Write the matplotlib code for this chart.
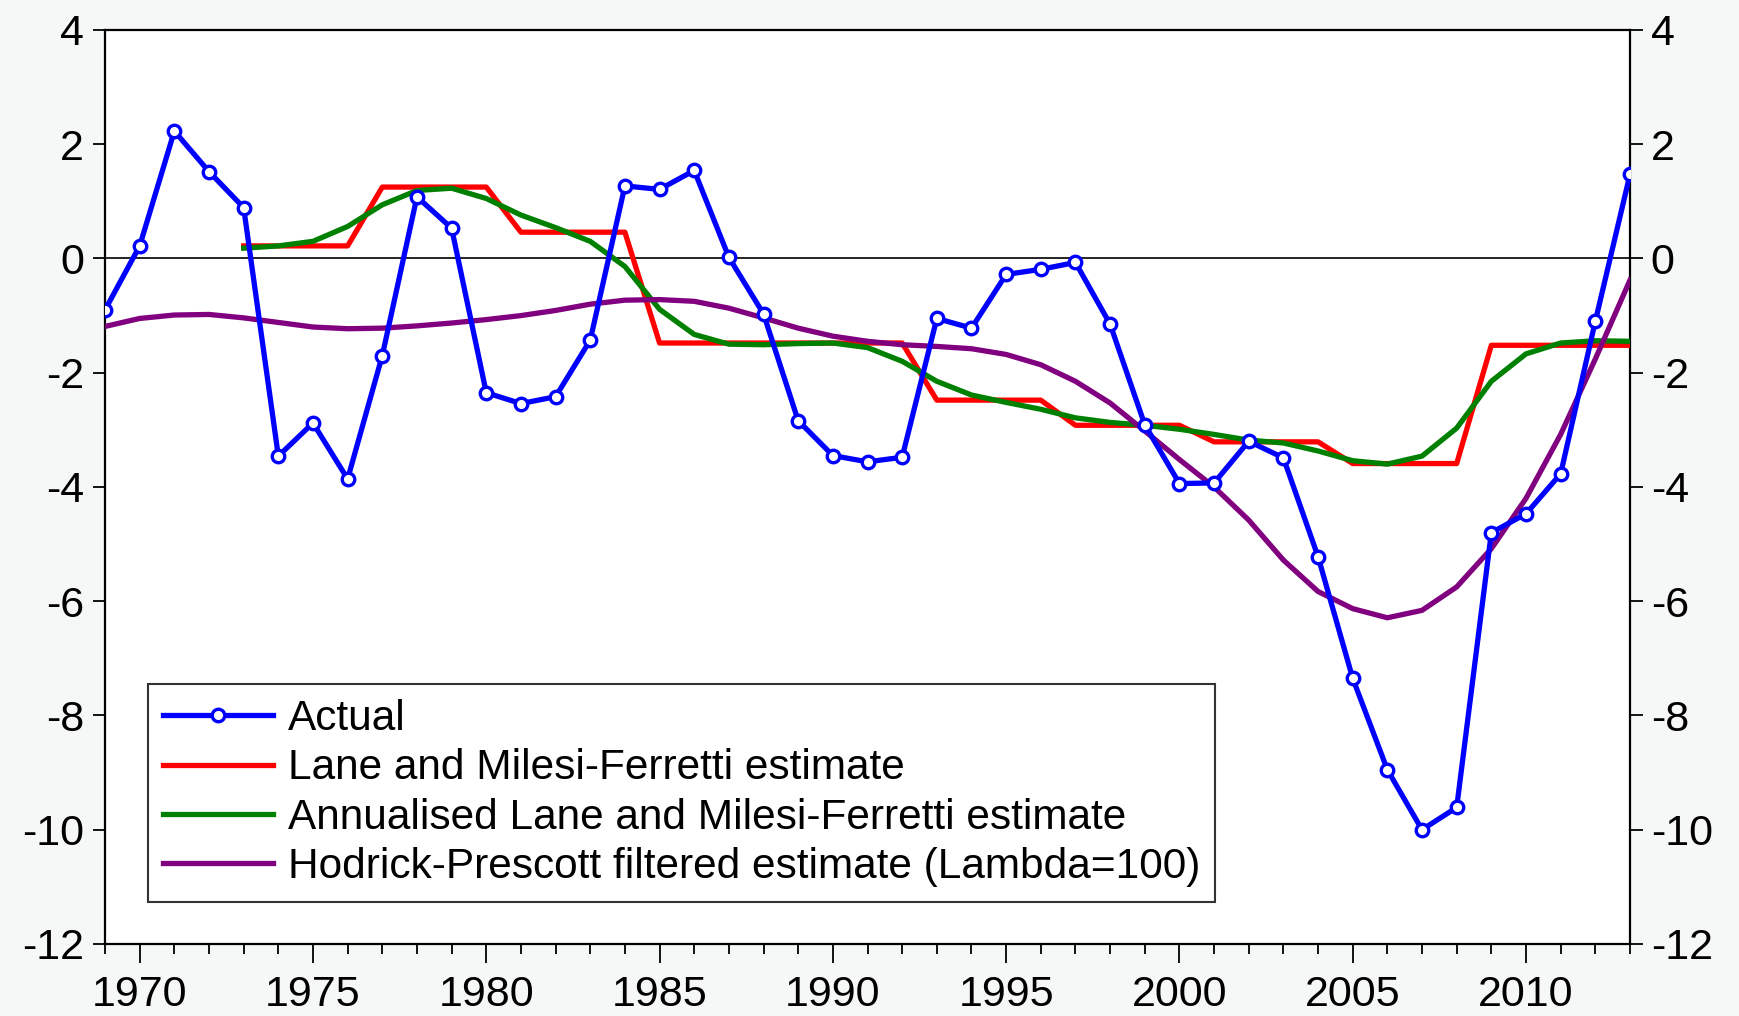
import matplotlib
matplotlib.use("Agg")
import matplotlib.pyplot as plt
import numpy as np
from matplotlib.ticker import MultipleLocator

plt.rcParams["font.family"] = ["Liberation Sans", "DejaVu Sans"]
plt.rcParams["axes.unicode_minus"] = False

# %% Data
years = np.arange(1969, 2014)

actual = [
    -0.90, 0.22, 2.23, 1.52, 0.89, -3.46, -2.88, -3.86, -1.70, 1.08,
    0.53, -2.35, -2.54, -2.42, -1.43, 1.27, 1.21, 1.54, 0.02, -0.97,
    -2.84, -3.45, -3.56, -3.48, -1.05, -1.22, -0.28, -0.19, -0.07, -1.15,
    -2.91, -3.94, -3.93, -3.20, -3.49, -5.22, -7.35, -8.95, -10.0, -9.61,
    -4.80, -4.47, -3.77, -1.10, 1.47,
]

# Lane and Milesi-Ferretti estimate (starts in 1973)
lmf_years = np.arange(1973, 2014)
lmf = [
    0.22, 0.22, 0.22, 0.22, 1.25, 1.25, 1.25, 1.25, 0.46, 0.46,
    0.46, 0.46, -1.48, -1.48, -1.48, -1.48, -1.48, -1.48, -1.48, -1.48,
    -2.48, -2.48, -2.48, -2.48, -2.92, -2.92, -2.92, -2.92, -3.21, -3.21,
    -3.21, -3.21, -3.59, -3.59, -3.59, -3.59, -1.52, -1.52, -1.52, -1.52,
    -1.52,
]

# Annualised Lane and Milesi-Ferretti estimate (starts in 1973)
lmf_annual = [
    0.18, 0.22, 0.30, 0.56, 0.94, 1.19, 1.23, 1.05, 0.76, 0.54,
    0.30, -0.14, -0.89, -1.33, -1.50, -1.51, -1.49, -1.48, -1.56, -1.80,
    -2.15, -2.39, -2.52, -2.64, -2.79, -2.87, -2.92, -2.99, -3.08, -3.18,
    -3.23, -3.37, -3.54, -3.60, -3.46, -2.97, -2.15, -1.67, -1.48, -1.44,
    -1.45,
]

# Hodrick-Prescott filtered estimate (Lambda=100)
hp = [
    -1.19, -1.05, -0.99, -0.98, -1.04, -1.12, -1.20, -1.23, -1.22, -1.18,
    -1.13, -1.07, -1.00, -0.91, -0.80, -0.73, -0.72, -0.75, -0.87, -1.04,
    -1.22, -1.36, -1.45, -1.51, -1.54, -1.58, -1.68, -1.86, -2.15, -2.53,
    -3.02, -3.52, -4.00, -4.58, -5.28, -5.83, -6.13, -6.29, -6.16, -5.75,
    -5.08, -4.20, -3.08, -1.76, -0.38,
]

labels = [
    "Actual",
    "Lane and Milesi-Ferretti estimate",
    "Annualised Lane and Milesi-Ferretti estimate",
    "Hodrick-Prescott filtered estimate (Lambda=100)",
]

# %% Plot
fig = plt.figure(figsize=(17.39, 10.16), dpi=100, facecolor="#f6f8f7")
ax = fig.add_axes([0.0604, 0.0709, 0.8769, 0.8996])
ax.set_facecolor("white")

ax.axhline(0, color="black", lw=1.2, zorder=1)

ax.plot(years, actual, color="#0000ff", lw=3.8, marker="o", ms=9,
        mfc="white", mec="#0000ff", mew=2.4, label=labels[0], zorder=5)
ax.plot(lmf_years, lmf, color="#ff0000", lw=3.8, label=labels[1], zorder=3)
ax.plot(lmf_years, lmf_annual, color="#008000", lw=3.8, label=labels[2], zorder=4)
ax.plot(years, hp, color="#800080", lw=3.8, label=labels[3], zorder=4)

ax.set_xlim(1969, 2013)
ax.set_ylim(-12, 4)
ax.set_yticks(np.arange(-12, 5, 2))
ax.xaxis.set_major_locator(MultipleLocator(5))
ax.xaxis.set_minor_locator(MultipleLocator(1))
ax.set_xticks(np.arange(1970, 2011, 5))

for s in ax.spines.values():
    s.set_linewidth(1.6)

ax.tick_params(axis="y", which="major", direction="out", length=9, width=1.3,
               labelsize=31, left=True, right=True, labelleft=True,
               labelright=True, pad=6)
ax.tick_params(axis="x", which="major", direction="out", length=14, width=1.3,
               labelsize=31, pad=8, top=False)
ax.tick_params(axis="x", which="minor", direction="out", length=7, width=1.3,
               top=False)

leg = ax.legend(loc="lower left", bbox_to_anchor=(0.028, 0.046), fontsize=30.5,
                frameon=True, fancybox=False, edgecolor="black",
                handlelength=2.6, handletextpad=0.35, borderpad=0.35,
                labelspacing=0.22, numpoints=1, borderaxespad=0)
leg.get_frame().set_linewidth(1.5)

fig.savefig("out.png", dpi=100, facecolor=fig.get_facecolor())
